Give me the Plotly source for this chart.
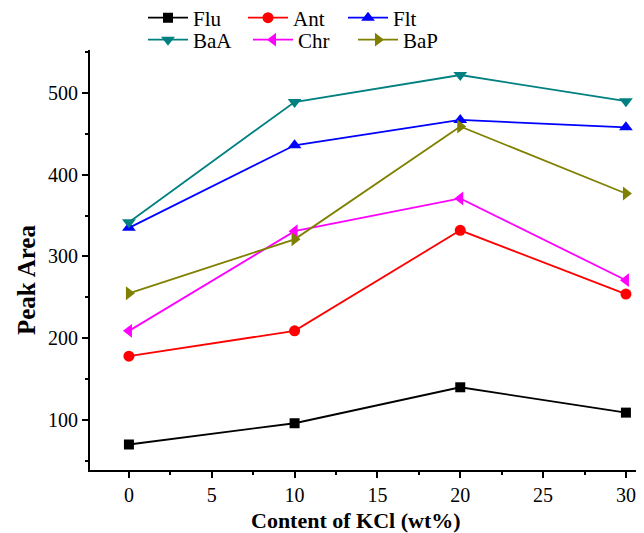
import plotly.graph_objects as go

x_kcl = [0, 10, 20, 30]
flu = [70, 96, 140, 109]
ant = [178, 209, 332, 254]
flt = [335, 436, 467, 458]
baa = [342, 489, 522, 490]
chr_ = [209, 331, 371, 271]
bap = [255, 321, 459, 377]

series = [
    ("Flu", flu, "black", "square", "legend", 10),
    ("Ant", ant, "red", "circle", "legend", 11),
    ("Flt", flt, "blue", "triangle-up", "legend", 12),
    ("BaA", baa, "#008080", "triangle-down", "legend2", 12),
    ("Chr", chr_, "#ff00ff", "triangle-left", "legend2", 12),
    ("BaP", bap, "#808000", "triangle-right", "legend2", 12),
]

fig = go.Figure()
for name, vals, color, sym, lg, ms in series:
    fig.add_trace(go.Scatter(
        x=x_kcl, y=vals, name=name, mode="lines+markers",
        line=dict(color=color, width=1.8),
        marker=dict(symbol=sym, size=ms, color=color),
        legend=lg,
    ))

font = "Liberation Serif, Times New Roman, serif"
# page body has an 8px margin; figure is sized to fill the rest of the window
OFF = 8
W, H = 636, 525
ML, MB = 82, 63
H_PLOT = H - MB
W_PLOT = W - ML - 4


def px(page_x):
    return (page_x - OFF - ML) / W_PLOT


def py(page_y):
    return (H_PLOT - (page_y - OFF)) / H_PLOT


legend_common = dict(orientation="h", xanchor="left", yanchor="middle",
                     font=dict(family=font, size=21, color="black"),
                     bgcolor="rgba(0,0,0,0)", entrywidthmode="pixels",
                     itemwidth=40, tracegroupgap=0)
fig.update_layout(
    width=W, height=H,
    margin=dict(l=ML, r=4, t=0, b=MB, autoexpand=False),
    plot_bgcolor="white", paper_bgcolor="white",
    font=dict(family=font, size=16, color="black"),
    showlegend=True,
    legend=dict(x=px(143), y=py(18), entrywidth=45, **legend_common),
    legend2=dict(x=px(143), y=py(40), entrywidth=50, **legend_common),
    xaxis=dict(
        range=[-2.35, 30.85], tickmode="array", tickvals=[0, 5, 10, 15, 20, 25, 30],
        automargin=False,
        showgrid=False, zeroline=False, showline=True, linecolor="black", linewidth=2,
        ticks="outside", ticklen=6, tickwidth=1.5, tickcolor="black",
        minor=dict(ticks="outside", ticklen=3, tickwidth=1.5, tickcolor="black", dtick=2.5, tick0=0),
        tickfont=dict(family=font, size=20),
    ),
    yaxis=dict(
        range=[38.8, 552.6], tickmode="array", tickvals=[100, 200, 300, 400, 500],
        domain=[0, 420 / H_PLOT], automargin=False,
        showgrid=False, zeroline=False, showline=True, linecolor="black", linewidth=2,
        ticks="outside", ticklen=6, tickwidth=1.5, tickcolor="black",
        minor=dict(ticks="outside", ticklen=3, tickwidth=1.5, tickcolor="black", dtick=50, tick0=0),
        tickfont=dict(family=font, size=20),
    ),
    annotations=[
        dict(text="<b>Content of KCl (wt%)</b>", xref="paper", yref="paper",
             x=px(356), y=py(520), xanchor="center", yanchor="middle", showarrow=False,
             font=dict(family=font, size=22, color="black")),
        dict(text="<b>Peak Area</b>", xref="paper", yref="paper", textangle=-90,
             x=px(26), y=py(280), xanchor="center", yanchor="middle", showarrow=False,
             font=dict(family=font, size=25, color="black")),
    ],
)
fig.write_html("out.html")
